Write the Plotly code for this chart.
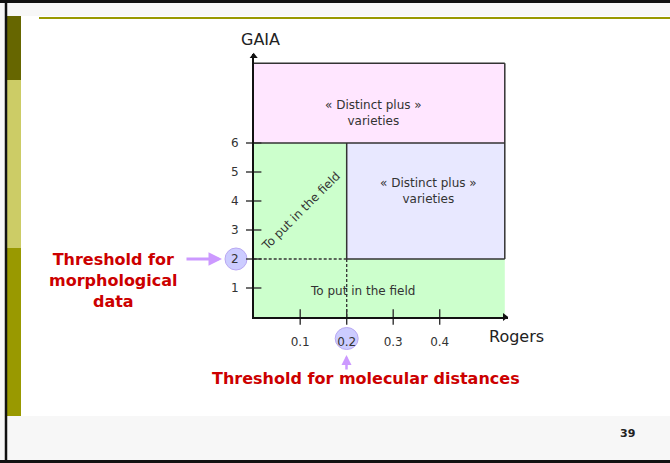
import plotly.graph_objects as go

W, H = 670, 463

# ---------------- data ----------------
x_ticks = [0.1, 0.2, 0.3, 0.4]
x_tick_labels = ["0.1", "0.2", "0.3", "0.4"]
y_ticks = [1, 2, 3, 4, 5, 6]
y_tick_labels = ["1", "2", "3", "4", "5", "6"]

rogers_threshold = 0.2      # molecular distance threshold
gaia_threshold = 2          # morphological threshold
gaia_upper = 6              # upper GAIA limit
rogers_max = 0.54           # right edge of the diagram
gaia_max = 8.75             # top edge of the diagram

region_labels = ["« Distinct plus »<br>varieties", "« Distinct plus »<br>varieties",
                 "To put in the field", "To put in the field"]

# ---------------- geometry helpers (pixel layout) ----------------
x0_px, x_scale = 253.7, 465.0   # px of x=0, px per unit
y0_px, y_scale = 317.0, 29.0    # px of y=0, px per unit
x_end_px, y_top_px = 508.0, 54.0

x_range = [0, (x_end_px - x0_px) / x_scale]
y_range = [0, (y0_px - y_top_px) / y_scale]


def pxx(x):
    return x / W


def pxy(y):
    return 1 - y / H


fig = go.Figure()

dark = "#333333"

# Regions
fig.add_trace(go.Scatter(
    x=[0, rogers_max, rogers_max, 0, 0],
    y=[gaia_upper, gaia_upper, gaia_max, gaia_max, gaia_upper],
    fill="toself", fillcolor="#FFE6FF", mode="none", hoverinfo="skip", showlegend=False))
fig.add_trace(go.Scatter(
    x=[0, rogers_max, rogers_max, rogers_threshold, rogers_threshold, 0, 0],
    y=[0, 0, gaia_threshold, gaia_threshold, gaia_upper, gaia_upper, 0],
    fill="toself", fillcolor="#CCFFCC", mode="none", hoverinfo="skip", showlegend=False))
fig.add_trace(go.Scatter(
    x=[rogers_threshold, rogers_max, rogers_max, rogers_threshold, rogers_threshold],
    y=[gaia_threshold, gaia_threshold, gaia_upper, gaia_upper, gaia_threshold],
    fill="toself", fillcolor="#E8E8FF", mode="none", hoverinfo="skip", showlegend=False))

# Solid borders
solid_segments = [
    ([0, rogers_max], [gaia_max, gaia_max]),
    ([rogers_max, rogers_max], [gaia_max, gaia_threshold]),
    ([0, rogers_max], [gaia_upper, gaia_upper]),
    ([rogers_threshold, rogers_threshold], [gaia_upper, gaia_threshold]),
    ([rogers_threshold, rogers_max], [gaia_threshold, gaia_threshold]),
]
for sx, sy in solid_segments:
    fig.add_trace(go.Scatter(x=sx, y=sy, mode="lines", line=dict(color=dark, width=1.5),
                             hoverinfo="skip", showlegend=False))

# Dashed threshold lines
dashed_segments = [
    ([rogers_threshold, rogers_threshold], [gaia_threshold, 0]),
    ([0, rogers_threshold], [gaia_threshold, gaia_threshold]),
]
for sx, sy in dashed_segments:
    fig.add_trace(go.Scatter(x=sx, y=sy, mode="lines",
                             line=dict(color=dark, width=1.3, dash="3px,2px"),
                             hoverinfo="skip", showlegend=False))

# Crossing tick marks
fig.add_trace(go.Scatter(
    x=[0] * len(y_ticks), y=y_ticks, mode="markers", cliponaxis=False,
    marker=dict(symbol="line-ew", size=11, line=dict(color=dark, width=1.4)),
    hoverinfo="skip", showlegend=False))
fig.add_trace(go.Scatter(
    x=x_ticks, y=[0] * len(x_ticks), mode="markers", cliponaxis=False,
    marker=dict(symbol="line-ns", size=11, line=dict(color=dark, width=1.4)),
    hoverinfo="skip", showlegend=False))

# Arrow heads
fig.add_trace(go.Scatter(
    x=[0], y=[y_range[1] - 0.08], mode="markers", cliponaxis=False,
    marker=dict(symbol="triangle-up", size=7, color="#111111"),
    hoverinfo="skip", showlegend=False))
fig.add_trace(go.Scatter(
    x=[x_range[1] - 0.007], y=[0], mode="markers", cliponaxis=False,
    marker=dict(symbol="triangle-right", size=7, color="#111111"),
    hoverinfo="skip", showlegend=False))

shapes = []
# slide decoration
shapes.append(dict(type="rect", xref="paper", yref="paper", x0=0, x1=1, y0=pxy(16), y1=1,
                   fillcolor="#F7F7F7", line_width=0, layer="below"))
shapes.append(dict(type="rect", xref="paper", yref="paper", x0=0, x1=1, y0=0, y1=pxy(416),
                   fillcolor="#F7F7F7", line_width=0, layer="below"))
shapes.append(dict(type="rect", xref="paper", yref="paper", x0=0, x1=pxx(7), y0=0, y1=1,
                   fillcolor="#F7F7F7", line_width=0, layer="below"))
bars = [(16, 80, "#666600"), (80, 248, "#CCCC66"), (248, 416, "#999900")]
for ya, yb, col in bars:
    shapes.append(dict(type="rect", xref="paper", yref="paper", x0=pxx(7), x1=pxx(21),
                       y0=pxy(yb), y1=pxy(ya), fillcolor=col, line_width=0, layer="below"))
shapes.append(dict(type="line", xref="paper", yref="paper", x0=pxx(39), x1=1,
                   y0=pxy(18), y1=pxy(18), line=dict(color="#999900", width=2), layer="below"))
# frame
shapes.append(dict(type="line", xref="paper", yref="paper", x0=0, x1=1, y0=pxy(1.5), y1=pxy(1.5),
                   line=dict(color="#111111", width=3)))
shapes.append(dict(type="line", xref="paper", yref="paper", x0=0, x1=1, y0=pxy(461.5), y1=pxy(461.5),
                   line=dict(color="#111111", width=3)))
shapes.append(dict(type="line", xref="paper", yref="paper", x0=pxx(6), x1=pxx(6), y0=pxy(1), y1=pxy(462),
                   line=dict(color="#111111", width=2.5)))

# highlight circles behind the threshold tick labels
shapes.append(dict(type="circle", xref="paper", yref="y",
                   x0=pxx(236 - 11), x1=pxx(236 + 11),
                   ysizemode="pixel", yanchor=gaia_threshold, y0=-11, y1=11,
                   fillcolor="#CCCCFF", line=dict(color="#B9A8F2", width=1), layer="below"))
shapes.append(dict(type="circle", xref="x", yref="paper",
                   xsizemode="pixel", xanchor=rogers_threshold, x0=-11.5, x1=11.5,
                   y0=pxy(349.5), y1=pxy(327.5),
                   fillcolor="#CCCCFF", line=dict(color="#B9A8F2", width=1), layer="below"))

font_c = dict(family="DejaVu Sans", size=12, color=dark)
C = dict(xanchor="center", yanchor="middle", showarrow=False)
annotations = [
    dict(x=0.2566, y=7.03, xref="x", yref="y", text=region_labels[0], font=font_c, **C),
    dict(x=0.375, y=4.33, xref="x", yref="y", text=region_labels[1], font=font_c, **C),
    dict(x=0.233, y=0.9, xref="x", yref="y", text=region_labels[2], font=font_c, **C),
    dict(x=0.1017, y=3.66, xref="x", yref="y", text=region_labels[3],
         textangle=-45, font=font_c, **C),
    # axis titles
    dict(x=pxx(260), y=pxy(40), xref="paper", yref="paper", text="GAIA",
         font=dict(family="DejaVu Sans", size=16, color="#222222"), **C),
    dict(x=pxx(516), y=pxy(336), xref="paper", yref="paper", text="Rogers",
         font=dict(family="DejaVu Sans", size=16, color="#222222"), **C),
    # red threshold labels
    dict(x=pxx(113), y=pxy(280), xref="paper", yref="paper",
         text="<b>Threshold for<br>morphological<br>data</b>",
         font=dict(family="DejaVu Sans", size=16, color="#CC0000"), **C),
    dict(x=pxx(365.5), y=pxy(378), xref="paper", yref="paper",
         text="<b>Threshold for molecular distances</b>",
         font=dict(family="DejaVu Sans", size=16, color="#CC0000"), **C),
    # arrows
    dict(x=pxx(222), y=pxy(y0_px - gaia_threshold * y_scale), xref="paper", yref="paper", text="",
         showarrow=True, ax=-37, ay=0, arrowhead=2, arrowsize=0.9, arrowwidth=3, arrowcolor="#CC99FF"),
    dict(x=pxx(346.5), y=pxy(355), xref="paper", yref="paper", text="", showarrow=True,
         ax=0, ay=16, arrowhead=2, arrowsize=0.8, arrowwidth=2.5, arrowcolor="#CC99FF"),
    # slide number
    dict(x=pxx(627), y=pxy(433), xref="paper", yref="paper", text="<b>39</b>",
         font=dict(family="DejaVu Sans", size=11, color="#222222"), **C),
]

fig.update_layout(
    width=W, height=H,
    margin=dict(l=0, r=0, t=0, b=0),
    paper_bgcolor="white", plot_bgcolor="rgba(0,0,0,0)",
    showlegend=False,
    shapes=shapes, annotations=annotations,
    xaxis=dict(domain=[x0_px / W, x_end_px / W], range=x_range, showgrid=False, zeroline=False,
               showline=True, linecolor="#111111", linewidth=1.5, ticks="",
               tickvals=x_ticks, ticktext=x_tick_labels, ticklabelstandoff=13,
               tickfont=dict(family="DejaVu Sans", size=12, color=dark), fixedrange=True),
    yaxis=dict(domain=[1 - y0_px / H, 1 - y_top_px / H], range=y_range, showgrid=False, zeroline=False,
               showline=True, linecolor="#111111", linewidth=1.5, ticks="",
               tickvals=y_ticks, ticktext=y_tick_labels, ticklabelstandoff=11,
               tickfont=dict(family="DejaVu Sans", size=12, color=dark), fixedrange=True),
)

fig.write_html("out.html", config={"displayModeBar": False},
               post_script="document.body.style.margin='0';document.body.style.overflow='hidden';")
